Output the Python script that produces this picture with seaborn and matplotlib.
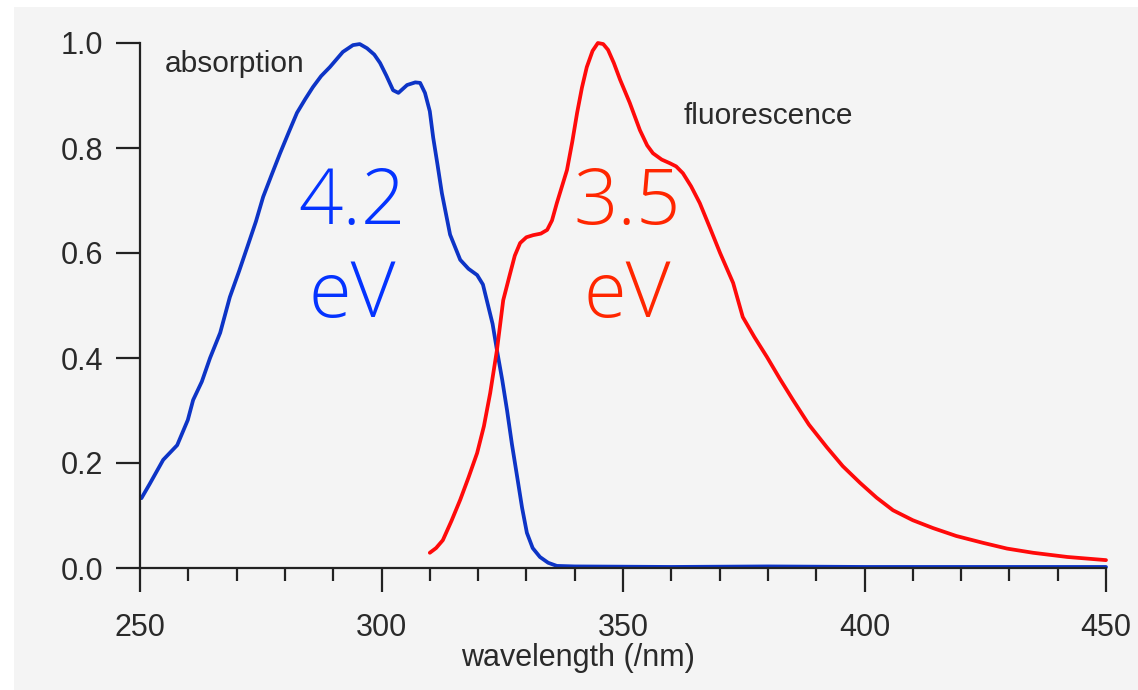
import numpy as np
import pandas as pd
import matplotlib
matplotlib.use("Agg")
import matplotlib.pyplot as plt
from matplotlib.patches import Rectangle
from matplotlib.ticker import MultipleLocator
import seaborn as sns

# ---- data ----
abs_wl = [250.3, 252.0, 254.8, 257.7, 259.9, 261.0, 262.8, 264.5, 266.6, 268.6,
          270.5, 272.2, 274.0, 275.5, 277.3, 279.0, 280.8, 282.5, 284.2, 285.8,
          287.5, 289.3, 292.0, 294.1, 295.5, 297.0, 298.5, 299.7, 301.0, 302.4,
          303.5, 305.3, 307.0, 308.0, 309.0, 310.0, 310.7, 311.6, 312.5, 314.2,
          316.3, 318.0, 319.8, 321.0, 321.8, 323.0, 323.9, 325.0, 326.0, 327.0,
          328.1, 329.1, 330.1, 331.3, 332.8, 334.5, 336.3, 340.0, 360.0, 380.0,
          400.0, 420.0, 450.0]
abs_val = [0.133, 0.160, 0.206, 0.234, 0.282, 0.320, 0.355, 0.400, 0.448, 0.516,
           0.565, 0.611, 0.660, 0.707, 0.750, 0.790, 0.830, 0.867, 0.893, 0.916,
           0.937, 0.954, 0.983, 0.996, 0.998, 0.990, 0.978, 0.962, 0.938, 0.910,
           0.905, 0.920, 0.925, 0.924, 0.905, 0.870, 0.820, 0.768, 0.714, 0.635,
           0.587, 0.570, 0.558, 0.540, 0.510, 0.465, 0.415, 0.358, 0.300, 0.236,
           0.173, 0.115, 0.067, 0.038, 0.021, 0.010, 0.004, 0.003, 0.002, 0.003,
           0.002, 0.002, 0.002]

flu_wl = [310.0, 311.3, 312.7, 314.5, 316.3, 318.0, 319.8, 321.2, 322.5, 323.9,
          325.2, 326.6, 327.6, 328.7, 330.0, 331.4, 333.0, 334.3, 335.3, 336.3,
          337.3, 338.4, 339.5, 340.5, 341.5, 342.5, 343.7, 344.8, 345.9, 346.9,
          348.1, 349.4, 351.4, 353.5, 355.0, 356.2, 358.0, 359.7, 361.0, 362.4,
          364.1, 365.9, 368.0, 370.1, 372.8, 374.8, 377.2, 379.8, 382.5, 385.2,
          388.5, 392.2, 395.5, 399.1, 402.5, 405.9, 410.0, 414.2, 419.0, 424.5,
          429.5, 434.9, 442.0, 450.0]
flu_val = [0.029, 0.038, 0.053, 0.090, 0.130, 0.172, 0.219, 0.270, 0.333, 0.415,
           0.510, 0.560, 0.595, 0.619, 0.630, 0.634, 0.637, 0.644, 0.662, 0.695,
           0.725, 0.758, 0.812, 0.867, 0.915, 0.954, 0.985, 1.000, 0.998, 0.987,
           0.962, 0.930, 0.886, 0.834, 0.805, 0.790, 0.778, 0.771, 0.765, 0.752,
           0.727, 0.695, 0.648, 0.600, 0.543, 0.478, 0.440, 0.402, 0.360, 0.320,
           0.273, 0.230, 0.194, 0.162, 0.134, 0.110, 0.091, 0.076, 0.061, 0.048,
           0.037, 0.029, 0.021, 0.015]

x_ticks = [250, 300, 350, 400, 450]
y_ticks = [0.0, 0.2, 0.4, 0.6, 0.8, 1.0]
y_ticklabels = ["0.0", "0.2", "0.4", "0.6", "0.8", "1.0"]

series_labels = ["absorption", "fluorescence"]
energy_labels = ["4.2", "3.5"]
x_label = "wavelength (/nm)"

# ---- build frames ----
df = pd.concat([
    pd.DataFrame({"wl": abs_wl, "val": abs_val, "series": series_labels[0]}),
    pd.DataFrame({"wl": flu_wl, "val": flu_val, "series": series_labels[1]}),
], ignore_index=True)

sns.set_theme(style="ticks")
plt.rcParams["font.family"] = ["Liberation Sans", "DejaVu Sans"]

W, H = 1138, 690
fig = plt.figure(figsize=(W / 100, H / 100), dpi=100, facecolor="white")
fig.patches.append(Rectangle((14 / W, 0), 1 - 14 / W, 1 - 7 / H,
                             transform=fig.transFigure, facecolor="#f4f4f4",
                             edgecolor="none", zorder=-10))

ax = fig.add_axes([140 / W, (H - 568) / H, (1106 - 140) / W, (568 - 43) / H])
ax.set_facecolor("none")

sns.lineplot(data=df, x="wl", y="val", hue="series",
             palette={series_labels[0]: "#0d34c6", series_labels[1]: "#ff0a0a"},
             linewidth=2.7, legend=False, ax=ax, sort=False, clip_on=False)

ax.set_xlim(250, 450)
ax.set_ylim(0, 1.0)
ax.set_xticks(x_ticks)
ax.xaxis.set_minor_locator(MultipleLocator(10))
ax.set_yticks(y_ticks)
ax.set_yticklabels(y_ticklabels)

for s in ["top", "right"]:
    ax.spines[s].set_visible(False)
for s in ["left", "bottom"]:
    ax.spines[s].set_color("#222222")
    ax.spines[s].set_linewidth(1.6)

ax.tick_params(axis="both", which="major", length=17.5, width=1.6,
               color="#222222", labelsize=22, labelcolor="#2a2a2a")
ax.tick_params(axis="x", which="minor", length=9.5, width=1.6, color="#222222")
ax.tick_params(axis="x", which="major", pad=15)
ax.tick_params(axis="y", which="major", pad=9)

ax.set_xlabel(x_label, fontsize=22, color="#2a2a2a", labelpad=2)
ax.xaxis.set_label_coords(0.453, -0.143)
ax.set_ylabel("")

# series labels
ax.text(255.2, 0.945, series_labels[0], fontsize=21.5, color="#2a2a2a",
        ha="left", va="baseline")
ax.text(362.6, 0.845, series_labels[1], fontsize=21.5, color="#2a2a2a",
        ha="left", va="baseline")

# energy annotations
efont = dict(family=["Open Sans", "DejaVu Sans"], fontweight="light",
             fontsize=56, ha="center", va="center")
ax.text(293.9, 0.693, energy_labels[0], color="#0433ff", **efont)
ax.text(293.9, 0.517, "eV", color="#0433ff", **efont)
ax.text(350.8, 0.693, energy_labels[1], color="#ff2600", **efont)
ax.text(350.8, 0.517, "eV", color="#ff2600", **efont)

fig.savefig("out.png", dpi=100, facecolor=fig.get_facecolor())
